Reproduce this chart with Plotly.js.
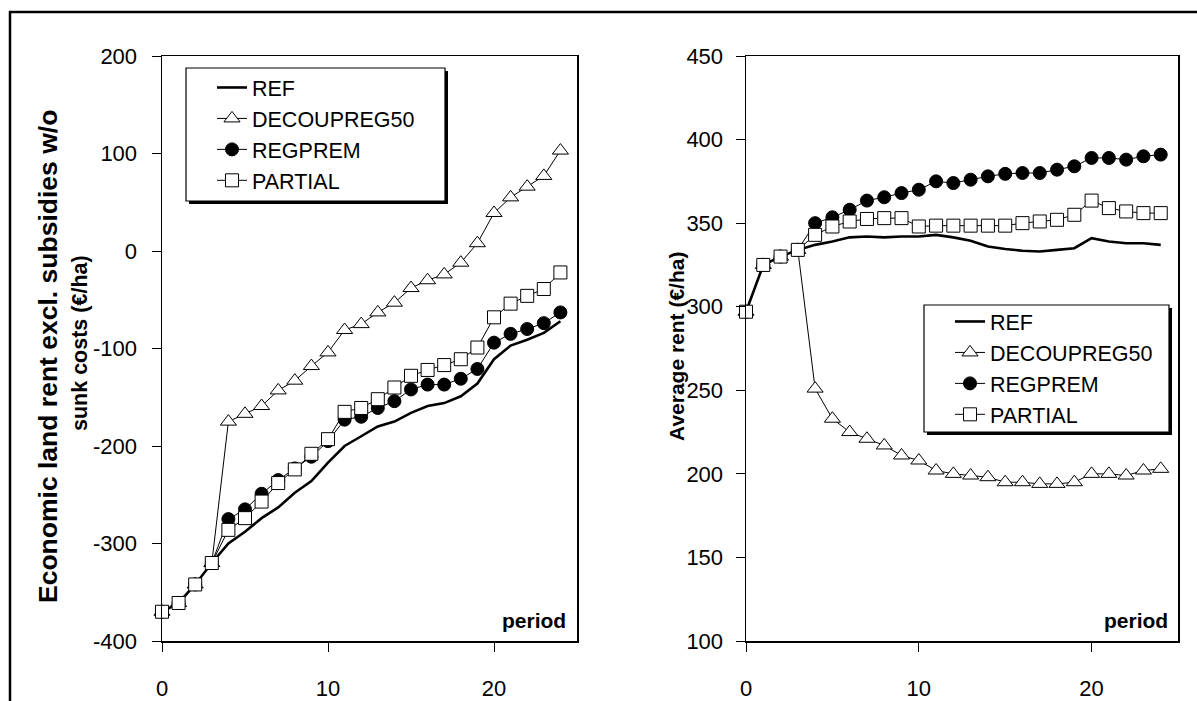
<!DOCTYPE html>
<html><head><meta charset="utf-8">
<script src="https://cdn.plot.ly/plotly-3.0.1.min.js"></script>
<style>html,body{margin:0;padding:0;background:#fff}#chart{width:1197px;height:701px}</style>
</head><body><div id="chart"></div>
<script>
const periods = [0,1,2,3,4,5,6,7,8,9,10,11,12,13,14,15,16,17,18,19,20,21,22,23,24];
const seriesNames = ['REF','DECOUPREG50','REGPREM','PARTIAL'];

// Left panel: Economic land rent excl. subsidies w/o sunk costs (€/ha)
const landRentREF      = [-370,-361,-342,-320,-300,-288,-274,-263,-248,-236,-217,-200,-190,-180,-175,-166,-159,-156,-149,-136,-111,-97,-91,-84,-72];
const landRentDECOUP   = [-370,-361,-342,-320,-175,-167,-159,-143,-133,-118,-104,-81,-75,-63,-53,-38,-30,-24,-12,8,39,55,66,77,103];
const landRentREGPREM  = [-370,-361,-342,-320,-275,-265,-249,-235,-223,-211,-195,-173,-170,-161,-154,-142,-137,-137,-131,-121,-94,-85,-80,-74,-63];
const landRentPARTIAL  = [-370,-361,-342,-320,-286,-274,-257,-238,-224,-208,-193,-165,-161,-152,-140,-128,-122,-117,-111,-99,-68,-54,-46,-39,-22];

// Right panel: Average rent (€/ha)
const avgRentREF       = [297,325,330,334,337,339,341.5,342,341.5,342,342,343,341.5,339.5,336,334.5,333.5,333,334,335,341,339,338,338,337];
const avgRentDECOUP    = [297,325,330,334,251,233,225,221,217,211,208,202,200,199,198,195,195,194,194,195,200,200,199,202,203];
const avgRentREGPREM   = [297,325,330,334,350,353.5,358,363.5,365.5,368,370,375,374,376,378,379.5,380,380,382,384,389,389,388,390,391];
const avgRentPARTIAL   = [297,325,330,334,343,348,351,352.5,353,353,348,348.5,348.5,348.5,348.5,348.5,350,351,352,355,363.5,359,357,356,356];

const leftTicks = [-400,-300,-200,-100,0,100,200];
const leftTickText = ['-400','-300','-200','-100','0','100','200'];
const rightTicks = [100,150,200,250,300,350,400,450];
const xTicks = [0,10,20];

const W = 1197, H = 701;
const px = v => v / W;
const py = v => 1 - v / H;
const FONT = 'Arial, Liberation Sans, sans-serif';

const styles = [
  {mode:'lines', line:{color:'#000', width:2.6}},
  {mode:'lines+markers', line:{color:'#000', width:1}, marker:{symbol:'triangle-up', size:14, color:'#fff', line:{color:'#000', width:1}}},
  {mode:'lines+markers', line:{color:'#000', width:1}, marker:{symbol:'circle', size:13, color:'#000', line:{color:'#000', width:1}}},
  {mode:'lines+markers', line:{color:'#000', width:1}, marker:{symbol:'square', size:13, color:'#fff', line:{color:'#000', width:1}}}
];

const leftData = [landRentREF, landRentDECOUP, landRentREGPREM, landRentPARTIAL];
const rightData = [avgRentREF, avgRentDECOUP, avgRentREGPREM, avgRentPARTIAL];

const traces = [];
leftData.forEach((ys, i) => {
  traces.push(Object.assign({type:'scatter', x:periods, y:ys, name:seriesNames[i], xaxis:'x', yaxis:'y', legend:'legend', cliponaxis:false}, JSON.parse(JSON.stringify(styles[i]))));
});
rightData.forEach((ys, i) => {
  traces.push(Object.assign({type:'scatter', x:periods, y:ys, name:seriesNames[i], xaxis:'x2', yaxis:'y2', legend:'legend2', cliponaxis:false}, JSON.parse(JSON.stringify(styles[i]))));
});

const tickFont = {family:FONT, size:22, color:'#000'};
const axisCommon = {showgrid:false, zeroline:false, showline:true, linecolor:'#000', linewidth:1.5, mirror:true,
  ticks:'outside', ticklen:9, tickwidth:1, tickcolor:'#000', tickfont:tickFont, fixedrange:true};

const legendCommon = {bgcolor:'rgba(0,0,0,0)', borderwidth:0, font:{family:FONT, size:21.5, color:'#000'},
  xanchor:'left', yanchor:'top', tracegroupgap:0, indentation:26, itemclick:false, itemdoubleclick:false};

function legendBox(x0, y0, x1, y1) {
  return [
    {type:'rect', xref:'paper', yref:'paper', x0:px(x0+3), x1:px(x1+3), y0:py(y1+3), y1:py(y0+3), line:{width:0}, fillcolor:'#000', layer:'above'},
    {type:'rect', xref:'paper', yref:'paper', x0:px(x0), x1:px(x1), y0:py(y1), y1:py(y0), line:{width:1.2, color:'#000'}, fillcolor:'#fff', layer:'above'}
  ];
}

const layout = {
  width:W, height:H, margin:{l:0,r:0,t:0,b:0}, paper_bgcolor:'#fff', plot_bgcolor:'#fff', showlegend:true,
  xaxis: Object.assign({}, axisCommon, {domain:[px(162), px(577)], range:[0,25], tickvals:xTicks, anchor:'y', ticklabelstandoff:18}),
  yaxis: Object.assign({}, axisCommon, {domain:[py(641), py(56)], range:[-400,200], tickvals:leftTicks, ticktext:leftTickText, anchor:'x', ticklabelstandoff:10}),
  xaxis2: Object.assign({}, axisCommon, {domain:[px(746), px(1178)], range:[0,25], tickvals:xTicks, anchor:'y2', ticklabelstandoff:18}),
  yaxis2: Object.assign({}, axisCommon, {domain:[py(641), py(56)], range:[100,450], tickvals:rightTicks, anchor:'x2', ticklabelstandoff:8}),
  legend: Object.assign({}, legendCommon, {x:px(186), y:py(67)}),
  legend2: Object.assign({}, legendCommon, {x:px(924), y:py(301)}),
  shapes: [
    {type:'rect', xref:'paper', yref:'paper', x0:px(10), x1:1.02, y0:-0.02, y1:py(12), line:{color:'#000', width:2.5}, fillcolor:'rgba(0,0,0,0)'}
  ].concat(legendBox(186, 68, 445, 201), legendBox(924, 305, 1169, 432)),
  annotations: [
    {xref:'paper', yref:'paper', x:px(48), y:py(357), text:'<b>Economic land rent excl. subsidies w/o</b>', textangle:-90, showarrow:false,
     font:{family:FONT, size:26.5, color:'#000'}, xanchor:'center', yanchor:'middle'},
    {xref:'paper', yref:'paper', x:px(80), y:py(343), text:'<b>sunk costs (€/ha)</b>', textangle:-90, showarrow:false,
     font:{family:FONT, size:21.5, color:'#000'}, xanchor:'center', yanchor:'middle'},
    {xref:'paper', yref:'paper', x:px(676), y:py(347), text:'<b>Average rent (€/ha)</b>', textangle:-90, showarrow:false,
     font:{family:FONT, size:21, color:'#000'}, xanchor:'center', yanchor:'middle'},
    {xref:'paper', yref:'paper', x:px(568), y:py(620), text:'<b>period</b>', showarrow:false,
     font:{family:FONT, size:21, color:'#000'}, xanchor:'right', yanchor:'middle'},
    {xref:'paper', yref:'paper', x:px(1170), y:py(620), text:'<b>period</b>', showarrow:false,
     font:{family:FONT, size:21, color:'#000'}, xanchor:'right', yanchor:'middle'}
  ]
};

Plotly.newPlot('chart', traces, layout, {staticPlot:true, displayModeBar:false});
</script>
</body></html>
